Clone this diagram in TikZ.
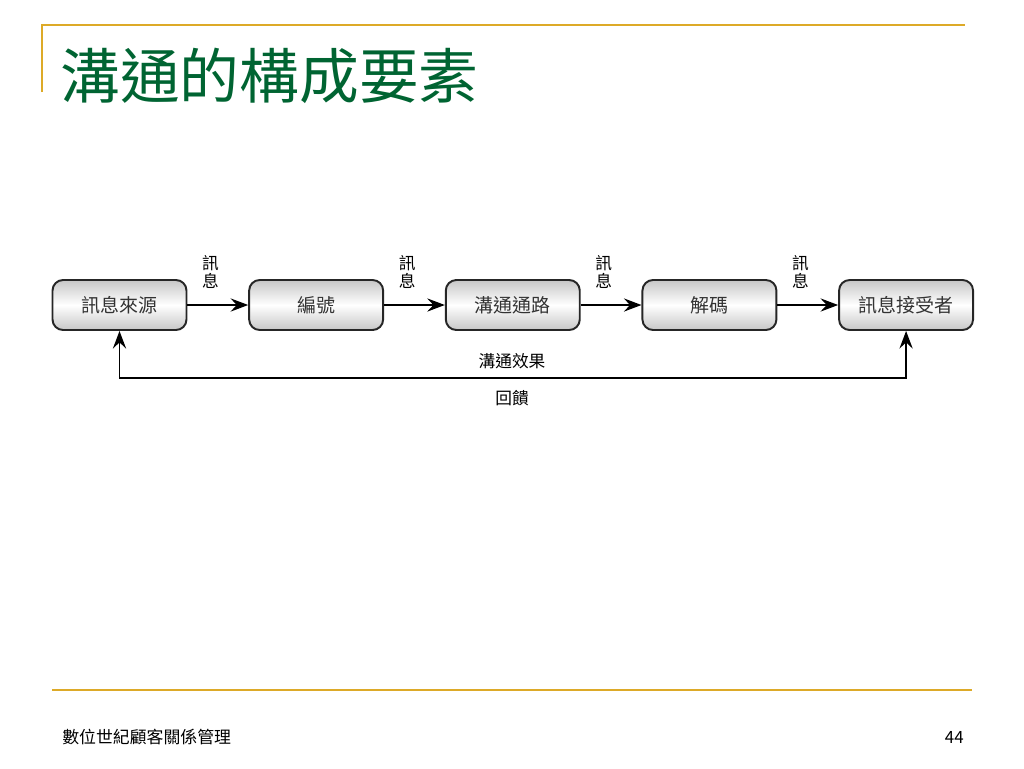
\documentclass[tikz,border=0pt]{standalone}
\usepackage{fontspec}
\newfontfamily\cjk{Noto Sans CJK TC}
\usetikzlibrary{positioning,arrows.meta}
\definecolor{gold}{RGB}{221,170,40}
\definecolor{titlegreen}{RGB}{0,100,50}
\tikzset{
	box/.style={draw=black!85,line width=1.1pt,rounded corners=6pt,minimum width=2.68cm,minimum height=1cm,
		top color=black!22,bottom color=black!22,middle color=white,text=black!80,
		font=\cjk\fontsize{10.8}{12}\selectfont},
	msg/.style={font=\cjk\fontsize{9.5}{10}\selectfont,align=center,inner sep=1pt},
	flow/.style={line width=1.1pt,-{Stealth[length=10pt,width=7.5pt,inset=3.5pt]}},
}
\begin{document}
\begin{tikzpicture}[x=0.02cm,y=-0.02cm,node distance=1.215cm]
	\useasboundingbox (0,0) rectangle (1024,768);
	% title and rules
	\draw[gold,line width=1.1pt] (42,92)--(42,25)--(965,25);
	\node[anchor=west,text=titlegreen,font=\cjk\fontsize{34}{36}\selectfont,inner sep=0pt] (title) at (60,76) {溝通的構成要素};
	\draw[gold,line width=1.1pt] (52,690)--(972,690);
	\node[anchor=west,font=\cjk\fontsize{9.6}{11}\selectfont,inner sep=0pt] (foot) at (62,737) {數位世紀顧客關係管理};
	\node[anchor=east,font=\cjk\fontsize{9.6}{11}\selectfont,inner sep=0pt] (page) at (964,737) {44};
	% chain
	\node[box] (src) at (119.5,305) {訊息來源};
	\node[box,right=of src] (enc) {編號};
	\node[box,right=of enc] (chan) {溝通通路};
	\node[box,right=of chan] (dec) {解碼};
	\node[box,right=of dec] (rcv) {訊息接受者};
	\foreach \a/\b in {src/enc,enc/chan,chan/dec,dec/rcv}
		\draw[flow] (\a.east) -- (\b.west) node[msg,pos=0.38,above=8pt]{訊\\息};
	% feedback
	\coordinate (fb) at (512,378);
	\draw[flow,{Stealth[length=10pt,width=7.5pt,inset=3.5pt]}-{Stealth[length=10pt,width=7.5pt,inset=3.5pt]}] (src.south) |- (fb) -| (rcv.south);
	\node[msg,above=4pt] (eff) at (fb) {溝通效果};
	\node[msg,below=6pt] (back) at (fb) {回饋};
\end{tikzpicture}
\end{document}
